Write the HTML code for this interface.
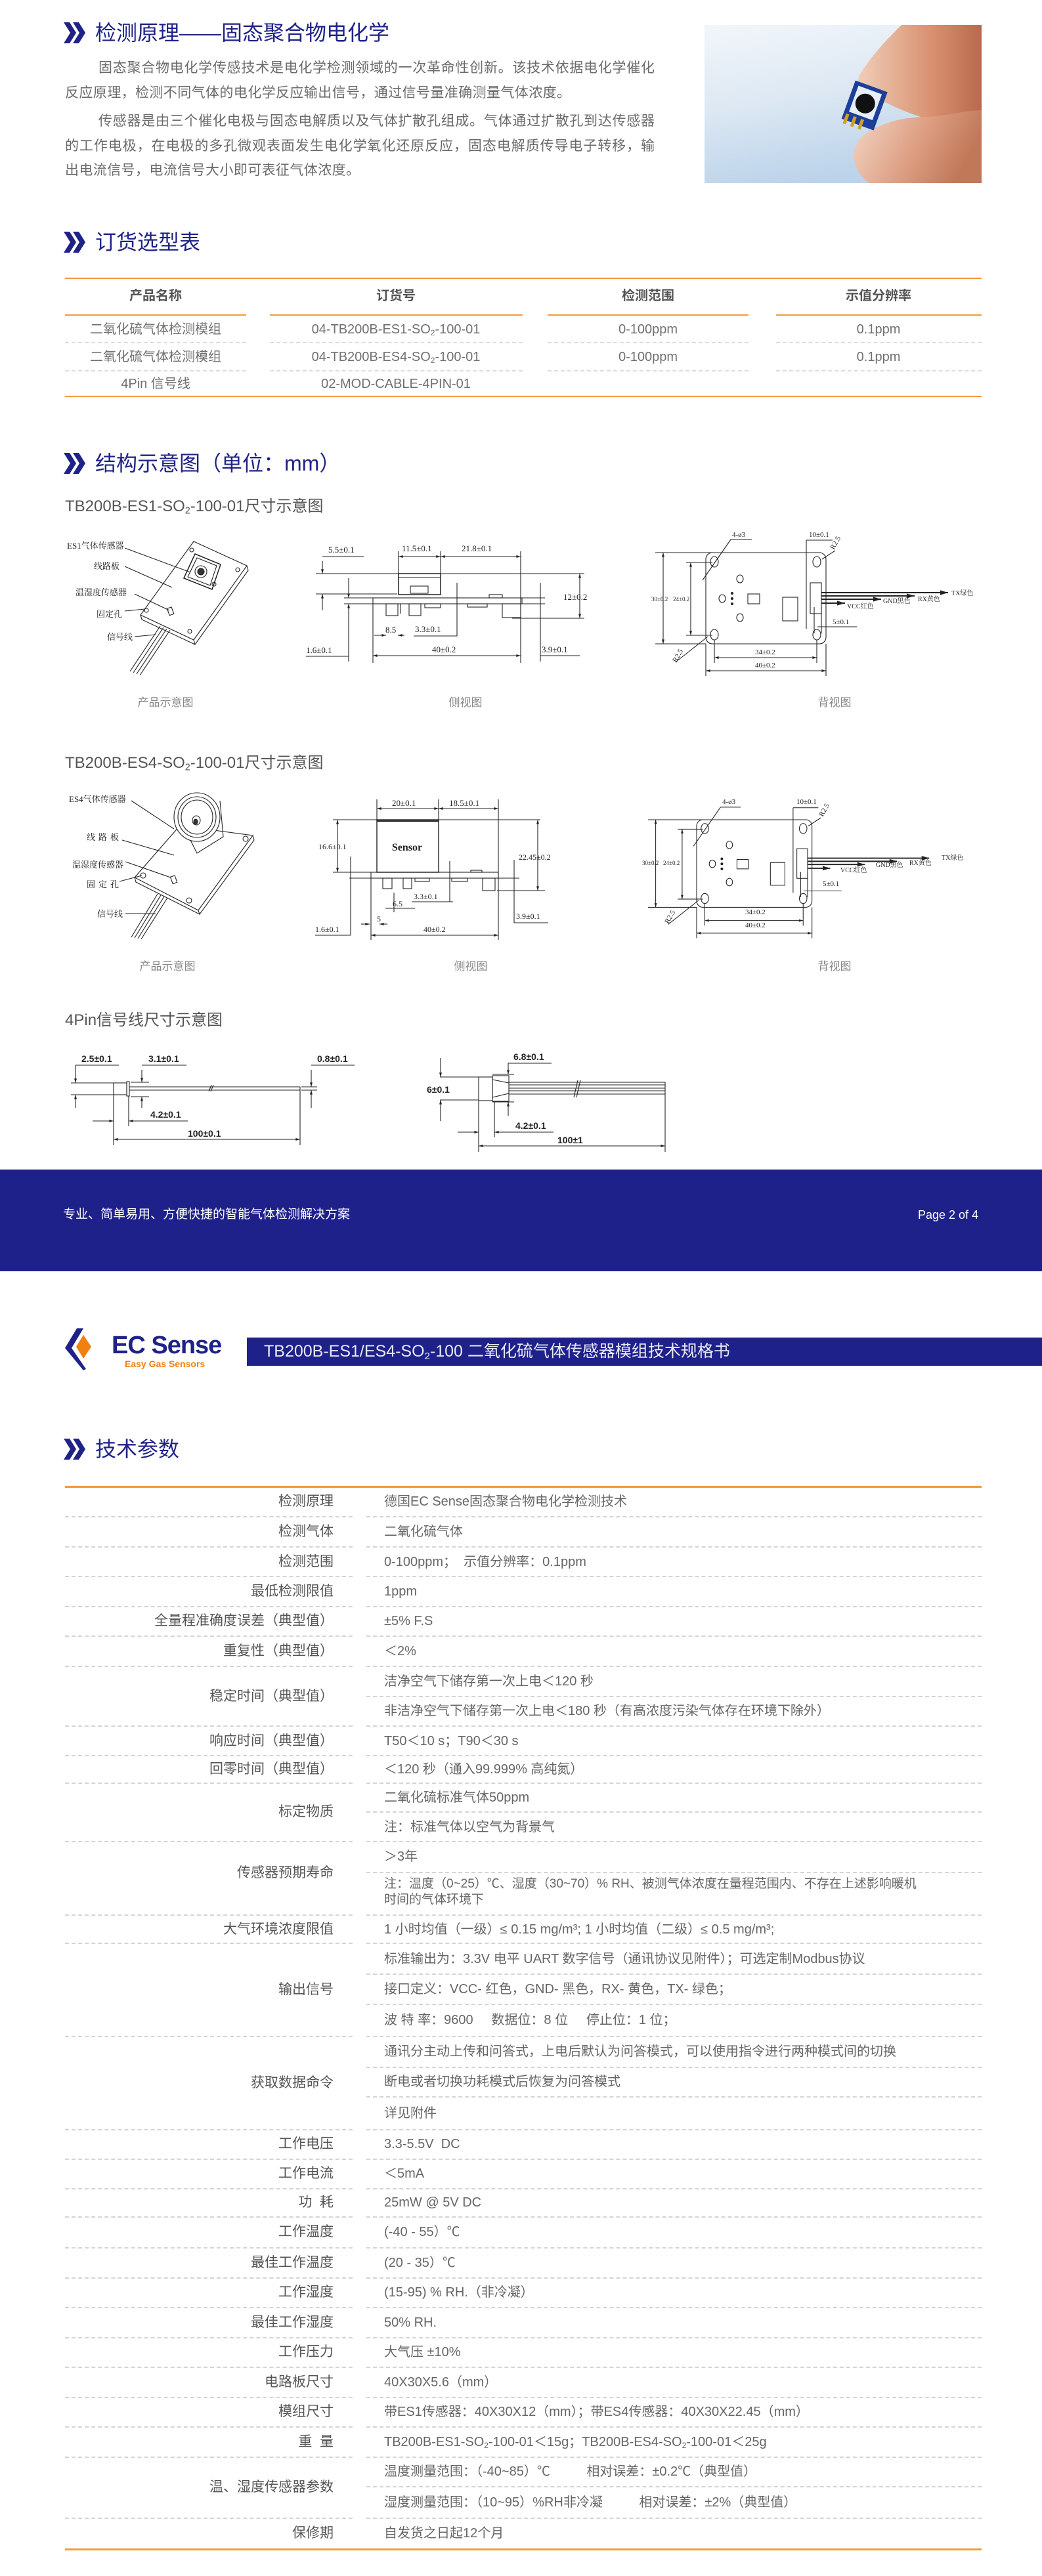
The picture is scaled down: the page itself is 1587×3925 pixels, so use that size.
<!DOCTYPE html>
<html><head><meta charset="utf-8">
<style>
*{margin:0;padding:0;box-sizing:border-box}
body{width:1587px;height:3925px;position:relative;overflow:hidden;background:#fff;font-family:"Liberation Sans","Noto Sans CJK SC",sans-serif;color:#666}
.a{position:absolute;white-space:nowrap}
.tt{position:absolute;left:145px;font-size:32px;color:#1f2287;line-height:40px;height:40px}
.ic{position:absolute;left:97px;width:40px;height:32px}
.p{position:absolute;font-size:21px;color:#6a6a6a;line-height:30px;height:30px;white-space:nowrap}
.j{text-align:justify;text-align-last:justify}
.sub{position:absolute;left:99px;font-size:24px;color:#555;line-height:30px}
.cap{position:absolute;font-size:17px;color:#888;line-height:24px;transform:translateX(-50%)}
.oh{position:absolute;font-size:20px;font-weight:bold;color:#555;line-height:30px;transform:translateX(-50%);top:436px}
.oc{position:absolute;font-size:20px;color:#707070;line-height:30px;transform:translateX(-50%)}
.L{position:absolute;left:0;width:508px;text-align:right;font-size:21px;color:#555;line-height:30px;white-space:pre}
.V{position:absolute;left:585px;font-size:20px;color:#666;line-height:30px;white-space:pre}
.dl{position:absolute;left:99px;width:438px;height:0;border-top:2px dashed #d4d4d4}
.dv{position:absolute;left:558px;width:937px;height:0;border-top:2px dashed #d4d4d4}
.ol{position:absolute;height:3px;background:#f39a3a}
sub{font-size:0.6em;vertical-align:-0.25em}
</style></head><body>

<svg class="ic" style="top:34px" viewBox="0 0 40 32"><polygon points="0,0 9,0 19,16 9,32 0,32 10,16" fill="#1f2287"/><polygon points="14,0 23,0 33,16 23,32 14,32 24,16" fill="#1f2287"/></svg>
<div class="tt" style="top:30px">检测原理——固态聚合物电化学</div>
<div class="p j" style="left:150px;top:89px;width:847px">固态聚合物电化学传感技术是电化学检测领域的一次革命性创新。该技术依据电化学催化</div>
<div class="p" style="left:99px;top:127px;letter-spacing:0.4px">反应原理，检测不同气体的电化学反应输出信号，通过信号量准确测量气体浓度。</div>
<div class="p j" style="left:150px;top:170px;width:847px">传感器是由三个催化电极与固态电解质以及气体扩散孔组成。气体通过扩散孔到达传感器</div>
<div class="p j" style="left:99px;top:208px;width:898px">的工作电极，在电极的多孔微观表面发生电化学氧化还原反应，固态电解质传导电子转移，输</div>
<div class="p" style="left:99px;top:245px;letter-spacing:0.4px">出电流信号，电流信号大小即可表征气体浓度。</div>

<svg class="a" style="left:1073px;top:38px" width="422" height="241" viewBox="0 0 422 241">
<defs>
<linearGradient id="bg" x1="0" y1="0" x2="0.3" y2="1"><stop offset="0" stop-color="#f2f6fa"/><stop offset="0.5" stop-color="#dde8f3"/><stop offset="1" stop-color="#bcd3ea"/></linearGradient>
<linearGradient id="sk" x1="0" y1="0" x2="1" y2="0"><stop offset="0" stop-color="#f0cdb8"/><stop offset="0.6" stop-color="#d89070"/><stop offset="1" stop-color="#b86a4c"/></linearGradient>
<linearGradient id="sk2" x1="0" y1="0" x2="1" y2="0.3"><stop offset="0" stop-color="#f3d8c6"/><stop offset="0.6" stop-color="#dc9c80"/><stop offset="1" stop-color="#c07858"/></linearGradient>
</defs>
<rect width="422" height="241" fill="url(#bg)"/>
<path d="M300,0 L422,0 L422,150 C380,160 320,140 280,120 C240,105 225,90 240,70 C260,40 280,20 300,0Z" fill="url(#sk)"/>
<path d="M422,130 L422,241 L250,241 C225,220 220,190 240,170 C265,150 300,140 340,140 C370,138 400,130 422,130Z" fill="url(#sk2)"/>
<g transform="rotate(20 245 122)"><rect x="218" y="92" width="52" height="62" fill="#1d3f9a"/><rect x="225" y="98" width="38" height="42" fill="#e8eef8"/><circle cx="244" cy="120" r="15" fill="#111"/><rect x="222" y="144" width="5" height="16" fill="#d4a020"/><rect x="234" y="144" width="5" height="16" fill="#d4a020"/><rect x="246" y="144" width="5" height="16" fill="#d4a020"/></g>
</svg>

<svg class="ic" style="top:353px" viewBox="0 0 40 32"><polygon points="0,0 9,0 19,16 9,32 0,32 10,16" fill="#1f2287"/><polygon points="14,0 23,0 33,16 23,32 14,32 24,16" fill="#1f2287"/></svg>
<div class="tt" style="top:349px">订货选型表</div>
<div class="ol" style="left:99px;top:423px;width:1396px;height:2px"></div>
<div class="oh" style="left:237px">产品名称</div>
<div class="oh" style="left:603px">订货号</div>
<div class="oh" style="left:987px">检测范围</div>
<div class="oh" style="left:1338px">示值分辨率</div>
<div class="ol" style="left:99px;top:479px;width:276px;height:2px"></div>
<div class="ol" style="left:411px;top:479px;width:385px;height:2px"></div>
<div class="ol" style="left:834px;top:479px;width:306px;height:2px"></div>
<div class="ol" style="left:1182px;top:479px;width:313px;height:2px"></div>
<div class="oc" style="left:237px;top:487px">二氧化硫气体检测模组</div>
<div class="oc" style="left:603px;top:487px">04-TB200B-ES1-SO<sub>2</sub>-100-01</div>
<div class="oc" style="left:987px;top:487px">0-100ppm</div>
<div class="oc" style="left:1338px;top:487px">0.1ppm</div>
<div class="oc" style="left:237px;top:529px">二氧化硫气体检测模组</div>
<div class="oc" style="left:603px;top:529px">04-TB200B-ES4-SO<sub>2</sub>-100-01</div>
<div class="oc" style="left:987px;top:529px">0-100ppm</div>
<div class="oc" style="left:1338px;top:529px">0.1ppm</div>
<div class="oc" style="left:237px;top:570px">4Pin 信号线</div>
<div class="oc" style="left:603px;top:570px">02-MOD-CABLE-4PIN-01</div>
<div class="a" style="left:99px;top:521px;width:276px;border-top:2px dashed #ddd"></div>
<div class="a" style="left:411px;top:521px;width:385px;border-top:2px dashed #ddd"></div>
<div class="a" style="left:834px;top:521px;width:306px;border-top:2px dashed #ddd"></div>
<div class="a" style="left:1182px;top:521px;width:313px;border-top:2px dashed #ddd"></div>
<div class="a" style="left:99px;top:564px;width:276px;border-top:2px dashed #ddd"></div>
<div class="a" style="left:411px;top:564px;width:385px;border-top:2px dashed #ddd"></div>
<div class="a" style="left:834px;top:564px;width:306px;border-top:2px dashed #ddd"></div>
<div class="a" style="left:1182px;top:564px;width:313px;border-top:2px dashed #ddd"></div>
<div class="ol" style="left:99px;top:603px;width:1396px;height:2px"></div>

<svg class="ic" style="top:690px" viewBox="0 0 40 32"><polygon points="0,0 9,0 19,16 9,32 0,32 10,16" fill="#1f2287"/><polygon points="14,0 23,0 33,16 23,32 14,32 24,16" fill="#1f2287"/></svg>
<div class="tt" style="top:686px">结构示意图（单位：mm）</div>
<div class="sub" style="top:757px">TB200B-ES1-SO<sub>2</sub>-100-01尺寸示意图</div>
<div class="sub" style="top:1148px">TB200B-ES4-SO<sub>2</sub>-100-01尺寸示意图</div>
<div class="sub" style="top:1540px">4Pin信号线尺寸示意图</div>
<div class="cap" style="left:252px;top:1059px">产品示意图</div>
<div class="cap" style="left:709px;top:1059px">侧视图</div>
<div class="cap" style="left:1271px;top:1059px">背视图</div>
<div class="cap" style="left:255px;top:1461px">产品示意图</div>
<div class="cap" style="left:717px;top:1461px">侧视图</div>
<div class="cap" style="left:1271px;top:1461px">背视图</div>

<svg class="a" style="left:0;top:0" width="1587" height="1800" viewBox="0 0 1587 1800">
<defs><marker id="ar" viewBox="0 0 10 10" refX="10" refY="5" markerWidth="8" markerHeight="6" orient="auto-start-reverse"><path d="M0,2 L10,5 L0,8z" fill="#222"/></marker></defs>
<g fill="none" stroke="#222" stroke-width="1.1">
<polygon points="295,825 376,862 295,975 214,937"/>
<polyline points="376,862 378,869 297,982 295,975"/><polyline points="214,937 216,944 297,982"/>
<polygon points="297,844 336,860 323,898 280,881" stroke-width="1.5"/>
<polygon points="300,850 330,862 320,892 286,879"/>
<circle cx="306" cy="871" r="9"/><circle cx="306" cy="871" r="5" fill="#333"/>
<circle cx="326" cy="890" r="3"/>
<circle cx="292" cy="838" r="3"/><circle cx="362" cy="868" r="3"/><circle cx="223" cy="930" r="3"/><circle cx="289" cy="962" r="3"/>
<rect x="256" y="926" width="7" height="11" transform="rotate(-20 259 931)"/>
<line x1="244" y1="954" x2="198" y2="1023"/><line x1="249" y1="956" x2="203" y2="1025"/><line x1="254" y1="958" x2="208" y2="1027"/><line x1="259" y1="960" x2="213" y2="1029"/>
<line x1="190" y1="835" x2="290" y2="872"/><line x1="190" y1="863" x2="262" y2="895"/><line x1="205" y1="905" x2="258" y2="930"/><line x1="190" y1="931" x2="221" y2="928"/><line x1="205" y1="970" x2="237" y2="967"/>
<line x1="491" y1="848" x2="554" y2="848"/><line x1="491" y1="855" x2="491" y2="874" marker-end="url(#ar)"/><line x1="491" y1="930" x2="491" y2="905" marker-end="url(#ar)"/>
<line x1="607" y1="848" x2="671" y2="848" marker-start="url(#ar)" marker-end="url(#ar)"/><line x1="671" y1="848" x2="793" y2="848" marker-start="url(#ar)" marker-end="url(#ar)"/>
<line x1="607" y1="840" x2="607" y2="874"/><line x1="671" y1="840" x2="671" y2="874"/><line x1="793" y1="840" x2="793" y2="1010"/>
<line x1="481" y1="874" x2="890" y2="874"/><line x1="481" y1="905" x2="605" y2="905"/>
<rect x="607" y="874" width="64" height="32" stroke-width="1.5"/><rect x="625" y="893" width="27" height="11"/>
<line x1="607" y1="880" x2="671" y2="880"/>
<rect x="568" y="911" width="227" height="9"/><line x1="524" y1="911" x2="830" y2="911"/><line x1="524" y1="920" x2="830" y2="920"/>
<rect x="588" y="920" width="18" height="18"/><rect x="623" y="920" width="18" height="18"/><rect x="647" y="920" width="24" height="6"/><rect x="712" y="920" width="30" height="5"/><rect x="765" y="920" width="28" height="21"/><rect x="745" y="906" width="20" height="5"/>
<line x1="610" y1="920" x2="610" y2="935"/>
<line x1="883" y1="874" x2="883" y2="942" marker-start="url(#ar)" marker-end="url(#ar)"/><line x1="780" y1="942" x2="890" y2="942"/>
<line x1="531" y1="881" x2="531" y2="911" marker-end="url(#ar)"/><line x1="531" y1="1008" x2="531" y2="920" marker-end="url(#ar)"/><line x1="466" y1="1000" x2="531" y2="1000"/>
<line x1="568" y1="920" x2="568" y2="1010"/>
<line x1="570" y1="968" x2="588" y2="968" marker-end="url(#ar)"/><line x1="616" y1="968" x2="606" y2="968" marker-end="url(#ar)"/>
<line x1="630" y1="969" x2="696" y2="969"/><line x1="696" y1="888" x2="696" y2="969"/>
<line x1="568" y1="999" x2="793" y2="999" marker-start="url(#ar)" marker-end="url(#ar)"/>
<line x1="823" y1="999" x2="883" y2="999"/><line x1="823" y1="888" x2="823" y2="1008"/>
<g transform="translate(1075,842)">
<rect x="0" y="0" width="183" height="139" rx="10"/>
<ellipse cx="13" cy="14" rx="6" ry="8"/><ellipse cx="169" cy="14" rx="6" ry="8"/><ellipse cx="13" cy="125" rx="6" ry="8"/><ellipse cx="169" cy="125" rx="6" ry="8"/>
<ellipse cx="52" cy="40" rx="5" ry="6"/><ellipse cx="52" cy="99" rx="5" ry="6"/><ellipse cx="25" cy="70" rx="5" ry="6"/>
<circle cx="40" cy="62" r="1.5" fill="#222"/><circle cx="40" cy="70" r="1.5" fill="#222"/><circle cx="40" cy="78" r="1.5" fill="#222"/>
<rect x="64" y="63" width="18" height="15"/><rect x="117" y="68" width="23" height="36"/><rect x="159" y="46" width="17" height="47"/>
<line x1="176" y1="61" x2="369" y2="61" marker-end="url(#ar)" stroke-width="2"/><line x1="176" y1="66" x2="318" y2="66" marker-end="url(#ar)" stroke-width="2"/><line x1="176" y1="71" x2="267" y2="71" marker-end="url(#ar)" stroke-width="2"/><line x1="176" y1="77" x2="212" y2="77" marker-end="url(#ar)" stroke-width="2"/>
<line x1="38" y1="-20" x2="70" y2="-20"/><line x1="38" y1="-20" x2="-5" y2="42"/>
<line x1="153" y1="-19" x2="193" y2="-19"/><line x1="153" y1="-19" x2="153" y2="116"/>
<line x1="197" y1="-3" x2="177" y2="10"/>
<line x1="-77" y1="0" x2="175" y2="0"/><line x1="-77" y1="139" x2="0" y2="139"/>
<line x1="-65" y1="0" x2="-65" y2="139" marker-start="url(#ar)" marker-end="url(#ar)"/>
<line x1="-30" y1="15" x2="10" y2="15"/><line x1="-30" y1="126" x2="10" y2="126"/><line x1="-23" y1="15" x2="-23" y2="126" marker-start="url(#ar)" marker-end="url(#ar)"/>
<line x1="170" y1="113" x2="230" y2="113"/><line x1="165" y1="83" x2="165" y2="123"/><line x1="176" y1="83" x2="176" y2="123"/>
<line x1="3" y1="128" x2="-45" y2="166"/>
<line x1="13" y1="133" x2="13" y2="168"/><line x1="169" y1="133" x2="169" y2="168"/><line x1="13" y1="160" x2="169" y2="160" marker-start="url(#ar)" marker-end="url(#ar)"/>
<line x1="0" y1="139" x2="0" y2="188"/><line x1="183" y1="139" x2="183" y2="188"/><line x1="0" y1="180" x2="183" y2="180" marker-start="url(#ar)" marker-end="url(#ar)"/>
</g>
<polygon points="274,1258 385,1273 302,1387 205,1337"/>
<polyline points="385,1273 387,1280 304,1393 302,1387"/><polyline points="205,1337 207,1344 304,1393"/>
<path d="M268,1236 L300,1300 L340,1275 L335,1220"/>
<ellipse cx="300" cy="1245" rx="35" ry="37" fill="#fff"/><ellipse cx="300" cy="1245" rx="29" ry="31"/><ellipse cx="300" cy="1245" rx="24" ry="26"/>
<ellipse cx="299" cy="1250" rx="6" ry="7"/><ellipse cx="298" cy="1252" rx="3" ry="4" fill="#333"/>
<circle cx="374" cy="1278" r="4"/><circle cx="218" cy="1334" r="4"/><circle cx="288" cy="1372" r="4"/>
<rect x="261" y="1335" width="7" height="11" transform="rotate(-20 264 1340)"/>
<line x1="240" y1="1362" x2="200" y2="1428"/><line x1="245" y1="1364" x2="205" y2="1429"/><line x1="250" y1="1366" x2="210" y2="1430"/><line x1="255" y1="1368" x2="215" y2="1431"/>
<line x1="200" y1="1220" x2="265" y2="1263"/><line x1="186" y1="1280" x2="265" y2="1303"/><line x1="191" y1="1313" x2="260" y2="1337"/><line x1="182" y1="1343" x2="216" y2="1334"/><line x1="191" y1="1392" x2="237" y2="1392"/>
<line x1="574" y1="1232" x2="668" y2="1232" marker-start="url(#ar)" marker-end="url(#ar)"/><line x1="668" y1="1232" x2="759" y2="1232" marker-start="url(#ar)" marker-end="url(#ar)"/>
<line x1="574" y1="1218" x2="574" y2="1249"/><line x1="668" y1="1218" x2="668" y2="1249"/><line x1="759" y1="1218" x2="759" y2="1340"/>
<line x1="507" y1="1249" x2="823" y2="1249"/>
<rect x="574" y="1249" width="94" height="80" stroke-width="1.4"/><line x1="574" y1="1251" x2="668" y2="1251" stroke-width="2"/>
<line x1="514" y1="1249" x2="514" y2="1329" marker-start="url(#ar)" marker-end="url(#ar)"/>
<line x1="507" y1="1329" x2="565" y2="1329"/>
<rect x="565" y="1329" width="194" height="9"/><line x1="532" y1="1338" x2="791" y2="1338"/>
<rect x="583" y="1338" width="14" height="16"/><rect x="614" y="1338" width="13" height="16"/><rect x="632" y="1338" width="22" height="5"/><rect x="688" y="1338" width="24" height="5"/><rect x="735" y="1338" width="19" height="19"/><rect x="717" y="1326" width="17" height="3"/>
<line x1="819" y1="1249" x2="819" y2="1357" marker-start="url(#ar)" marker-end="url(#ar)"/><line x1="757" y1="1357" x2="830" y2="1357"/>
<line x1="627" y1="1374" x2="690" y2="1374"/><line x1="685" y1="1312" x2="685" y2="1374"/>
<line x1="587" y1="1384" x2="632" y2="1384"/><line x1="600" y1="1360" x2="600" y2="1390"/>
<line x1="550" y1="1408" x2="563" y2="1408" marker-end="url(#ar)"/><line x1="590" y1="1408" x2="578" y2="1408" marker-end="url(#ar)"/>
<line x1="480" y1="1425" x2="534" y2="1425"/><line x1="534" y1="1305" x2="534" y2="1425"/>
<line x1="565" y1="1338" x2="565" y2="1432"/>
<line x1="565" y1="1425" x2="759" y2="1425" marker-start="url(#ar)" marker-end="url(#ar)"/><line x1="759" y1="1340" x2="759" y2="1432"/>
<line x1="783" y1="1406" x2="835" y2="1406"/><line x1="783" y1="1310" x2="783" y2="1406"/>
<g transform="translate(1061,1249) scale(0.96)">
<rect x="0" y="0" width="183" height="139" rx="10"/>
<ellipse cx="13" cy="14" rx="6" ry="8"/><ellipse cx="169" cy="14" rx="6" ry="8"/><ellipse cx="13" cy="125" rx="6" ry="8"/><ellipse cx="169" cy="125" rx="6" ry="8"/>
<ellipse cx="52" cy="40" rx="5" ry="6"/><ellipse cx="52" cy="99" rx="5" ry="6"/><ellipse cx="25" cy="70" rx="5" ry="6"/>
<circle cx="40" cy="62" r="1.5" fill="#222"/><circle cx="40" cy="70" r="1.5" fill="#222"/><circle cx="40" cy="78" r="1.5" fill="#222"/>
<rect x="64" y="63" width="18" height="15"/><rect x="117" y="68" width="23" height="36"/><rect x="159" y="46" width="17" height="47"/>
<line x1="176" y1="61" x2="369" y2="61" marker-end="url(#ar)" stroke-width="2"/><line x1="176" y1="66" x2="318" y2="66" marker-end="url(#ar)" stroke-width="2"/><line x1="176" y1="71" x2="267" y2="71" marker-end="url(#ar)" stroke-width="2"/><line x1="176" y1="77" x2="212" y2="77" marker-end="url(#ar)" stroke-width="2"/>
<line x1="38" y1="-20" x2="70" y2="-20"/><line x1="38" y1="-20" x2="-5" y2="42"/>
<line x1="153" y1="-19" x2="193" y2="-19"/><line x1="153" y1="-19" x2="153" y2="116"/>
<line x1="197" y1="-3" x2="177" y2="10"/>
<line x1="-77" y1="0" x2="175" y2="0"/><line x1="-77" y1="139" x2="0" y2="139"/>
<line x1="-65" y1="0" x2="-65" y2="139" marker-start="url(#ar)" marker-end="url(#ar)"/>
<line x1="-30" y1="15" x2="10" y2="15"/><line x1="-30" y1="126" x2="10" y2="126"/><line x1="-23" y1="15" x2="-23" y2="126" marker-start="url(#ar)" marker-end="url(#ar)"/>
<line x1="170" y1="113" x2="230" y2="113"/><line x1="165" y1="83" x2="165" y2="123"/><line x1="176" y1="83" x2="176" y2="123"/>
<line x1="3" y1="128" x2="-45" y2="166"/>
<line x1="13" y1="133" x2="13" y2="168"/><line x1="169" y1="133" x2="169" y2="168"/><line x1="13" y1="160" x2="169" y2="160" marker-start="url(#ar)" marker-end="url(#ar)"/>
<line x1="0" y1="139" x2="0" y2="188"/><line x1="183" y1="139" x2="183" y2="188"/><line x1="0" y1="180" x2="183" y2="180" marker-start="url(#ar)" marker-end="url(#ar)"/>
</g>
<rect x="173" y="1650" width="20" height="18"/><rect x="193" y="1648" width="4" height="22"/>
<line x1="197" y1="1656" x2="457" y2="1656"/><line x1="197" y1="1661" x2="457" y2="1661"/><line x1="457" y1="1656" x2="457" y2="1661"/>
<line x1="318" y1="1663" x2="322" y2="1653"/><line x1="321" y1="1663" x2="325" y2="1653"/>
<line x1="108" y1="1650" x2="173" y2="1650"/><line x1="108" y1="1668" x2="173" y2="1668"/>
<line x1="115" y1="1623" x2="115" y2="1650" marker-end="url(#ar)"/><line x1="115" y1="1688" x2="115" y2="1668" marker-end="url(#ar)"/>
<line x1="115" y1="1623" x2="181" y2="1623"/>
<line x1="199" y1="1649" x2="227" y2="1649"/><line x1="199" y1="1671" x2="227" y2="1671"/>
<line x1="216" y1="1630" x2="216" y2="1649" marker-end="url(#ar)"/><line x1="216" y1="1688" x2="216" y2="1671" marker-end="url(#ar)"/><line x1="216" y1="1623" x2="284" y2="1623"/>
<line x1="459" y1="1656" x2="483" y2="1656"/><line x1="459" y1="1661" x2="483" y2="1661"/>
<line x1="474" y1="1630" x2="474" y2="1656" marker-end="url(#ar)"/><line x1="474" y1="1688" x2="474" y2="1661" marker-end="url(#ar)"/><line x1="474" y1="1623" x2="540" y2="1623"/>
<line x1="141" y1="1708" x2="173" y2="1708" marker-end="url(#ar)"/><line x1="286" y1="1708" x2="196" y2="1708" marker-end="url(#ar)"/>
<line x1="173" y1="1668" x2="173" y2="1745"/><line x1="196" y1="1670" x2="196" y2="1716"/>
<line x1="173" y1="1736" x2="457" y2="1736" marker-start="url(#ar)" marker-end="url(#ar)"/><line x1="457" y1="1661" x2="457" y2="1745"/>
<rect x="729" y="1641" width="21" height="36"/><rect x="750" y="1639" width="25" height="39"/>
<line x1="750" y1="1645" x2="775" y2="1650"/><line x1="750" y1="1672" x2="775" y2="1666"/>
<line x1="775" y1="1649" x2="1013" y2="1649"/><line x1="775" y1="1653" x2="1013" y2="1653"/><line x1="775" y1="1658" x2="1013" y2="1658"/><line x1="775" y1="1662" x2="1013" y2="1662"/><line x1="775" y1="1667" x2="1013" y2="1667"/><line x1="1013" y1="1649" x2="1013" y2="1667"/>
<line x1="874" y1="1672" x2="880" y2="1646"/><line x1="878" y1="1672" x2="884" y2="1646"/>
<line x1="670" y1="1641" x2="729" y2="1641"/><line x1="670" y1="1676" x2="729" y2="1676"/>
<line x1="671" y1="1612" x2="671" y2="1641" marker-end="url(#ar)"/><line x1="671" y1="1708" x2="671" y2="1676" marker-end="url(#ar)"/>
<line x1="750" y1="1637" x2="783" y2="1637"/><line x1="750" y1="1679" x2="783" y2="1679"/>
<line x1="774" y1="1620" x2="774" y2="1637" marker-end="url(#ar)"/><line x1="774" y1="1700" x2="774" y2="1679" marker-end="url(#ar)"/><line x1="774" y1="1620" x2="840" y2="1620"/>
<line x1="697" y1="1725" x2="729" y2="1725" marker-end="url(#ar)"/><line x1="843" y1="1725" x2="753" y2="1725" marker-end="url(#ar)"/>
<line x1="729" y1="1677" x2="729" y2="1755"/><line x1="753" y1="1678" x2="753" y2="1733"/>
<line x1="729" y1="1746" x2="1013" y2="1746" marker-start="url(#ar)" marker-end="url(#ar)"/><line x1="1013" y1="1667" x2="1013" y2="1755"/>
</g>
<g font-family="Liberation Serif,Noto Serif CJK SC,serif" font-size="13" fill="#222">
<text x="102" y="836">ES1气体传感器</text><text x="143" y="867">线路板</text><text x="115" y="907">温湿度传感器</text><text x="147" y="940">固定孔</text><text x="163" y="975">信号线</text>
<text x="500" y="842">5.5±0.1</text><text x="612" y="840">11.5±0.1</text><text x="703" y="840">21.8±0.1</text>
<text x="858" y="914">12±0.2</text><text x="466" y="995">1.6±0.1</text><text x="587" y="964">8.5</text><text x="632" y="963">3.3±0.1</text><text x="658" y="994">40±0.2</text><text x="825" y="994">3.9±0.1</text>
<text x="105" y="1222">ES4气体传感器</text><text x="132" y="1280" letter-spacing="5">线路板</text><text x="110" y="1322">温湿度传感器</text><text x="132" y="1352" letter-spacing="5">固定孔</text><text x="148" y="1397">信号线</text>
<text x="597" y="1228">20±0.1</text><text x="684" y="1228">18.5±0.1</text>
<text x="620" y="1296" font-weight="bold" font-size="16" text-anchor="middle">Sensor</text>
<text x="485" y="1294" font-size="12">16.6±0.1</text><text x="790" y="1310" font-size="12">22.45±0.2</text>
<text x="630" y="1370" font-size="12">3.3±0.1</text><text x="598" y="1381" font-size="12">6.5</text><text x="574" y="1404" font-size="12">5</text><text x="480" y="1420" font-size="12">1.6±0.1</text><text x="645" y="1420" font-size="12">40±0.2</text><text x="786" y="1400" font-size="12">3.9±0.1</text>
</g>
<g font-family="Liberation Serif,Noto Serif CJK SC,serif" font-size="11" fill="#222">
<text x="1115" y="818">4-ø3</text><text x="1232" y="818">10±0.1</text><text x="1270" y="838" transform="rotate(-60 1270 838)">R2.5</text>
<text x="992" y="916" font-size="9">30±0.2</text><text x="1025" y="916" font-size="9">24±0.2</text>
<text x="1449" y="907" font-size="10">TX绿色</text><text x="1398" y="916" font-size="10">RX黄色</text><text x="1345" y="919" font-size="10">GND黑色</text><text x="1290" y="927" font-size="10">VCC红色</text>
<text x="1268" y="951">5±0.1</text><text x="1030" y="1010" transform="rotate(-60 1030 1010)">R2.5</text>
<text x="1150" y="997">34±0.2</text><text x="1150" y="1017">40±0.2</text>
<text x="1100" y="1225">4-ø3</text><text x="1213" y="1225">10±0.1</text><text x="1253" y="1245" transform="rotate(-60 1253 1245)">R2.5</text>
<text x="978" y="1318" font-size="9">30±0.2</text><text x="1010" y="1318" font-size="9">24±0.2</text>
<text x="1434" y="1310" font-size="10">TX绿色</text><text x="1385" y="1318" font-size="10">RX黄色</text><text x="1334" y="1321" font-size="10">GND黑色</text><text x="1280" y="1329" font-size="10">VCC红色</text>
<text x="1253" y="1350">5±0.1</text><text x="1018" y="1408" transform="rotate(-60 1018 1408)">R2.5</text>
<text x="1135" y="1393">34±0.2</text><text x="1135" y="1413">40±0.2</text>
</g>
<g font-family="Liberation Sans Narrow,Liberation Sans,sans-serif" font-size="14" font-weight="bold" fill="#222">
<text x="124" y="1618">2.5±0.1</text><text x="226" y="1618">3.1±0.1</text><text x="483" y="1618">0.8±0.1</text><text x="229" y="1703">4.2±0.1</text><text x="286" y="1732">100±0.1</text>
<text x="782" y="1615">6.8±0.1</text><text x="650" y="1665">6±0.1</text><text x="785" y="1720">4.2±0.1</text><text x="849" y="1742">100±1</text>
</g>
</svg>

<div class="a" style="left:0;top:1782px;width:1587px;height:155px;background:#1e2189"></div>
<div class="a" style="left:96px;top:1838px;font-size:19px;color:#fff;line-height:26px">专业、简单易用、方便快捷的智能气体检测解决方案</div>
<div class="a" style="left:1398px;top:1838px;font-size:18px;color:#fff;line-height:26px">Page 2 of 4</div>

<svg class="a" style="left:99px;top:2024px" width="70" height="64" viewBox="0 0 70 64"><polygon points="18,0 28,0 10,30 32,62 28,64 0,30" fill="#1f2287"/><polygon points="28,10 40,28 28,46 17,28" fill="#f08010"/></svg>
<div class="a" style="left:170px;top:2030px;font-size:38px;font-weight:bold;color:#1f2287;line-height:40px;letter-spacing:-1px">EC Sense</div>
<div class="a" style="left:190px;top:2069px;font-size:14px;font-weight:bold;color:#f08010;line-height:18px">Easy Gas Sensors</div>
<div class="a" style="left:376px;top:2038px;width:1211px;height:43px;background:#1e2189"></div>
<div class="a" style="left:402px;top:2043px;font-size:25px;color:#e8e8f4;line-height:33px">TB200B-ES1/ES4-SO<sub>2</sub>-100 二氧化硫气体传感器模组技术规格书</div>

<svg class="ic" style="top:2192px" viewBox="0 0 40 32"><polygon points="0,0 9,0 19,16 9,32 0,32 10,16" fill="#1f2287"/><polygon points="14,0 23,0 33,16 23,32 14,32 24,16" fill="#1f2287"/></svg>
<div class="tt" style="top:2188px">技术参数</div>
<div class="ol" style="left:99px;top:2264px;width:1396px;height:3px"></div>

<div class="L" style="top:2273px">检测原理</div><div class="V" style="top:2273px">德国EC Sense固态聚合物电化学检测技术</div>
<div class="dl" style="top:2310px"></div><div class="dv" style="top:2310px"></div>
<div class="L" style="top:2319px">检测气体</div><div class="V" style="top:2319px">二氧化硫气体</div>
<div class="dl" style="top:2356px"></div><div class="dv" style="top:2356px"></div>
<div class="L" style="top:2365px">检测范围</div><div class="V" style="top:2365px">0-100ppm；  示值分辨率：0.1ppm</div>
<div class="dl" style="top:2401px"></div><div class="dv" style="top:2401px"></div>
<div class="L" style="top:2410px">最低检测限值</div><div class="V" style="top:2410px">1ppm</div>
<div class="dl" style="top:2447px"></div><div class="dv" style="top:2447px"></div>
<div class="L" style="top:2455px">全量程准确度误差（典型值）</div><div class="V" style="top:2455px">±5% F.S</div>
<div class="dl" style="top:2492px"></div><div class="dv" style="top:2492px"></div>
<div class="L" style="top:2501px">重复性（典型值）</div><div class="V" style="top:2501px">＜2%</div>
<div class="dl" style="top:2538px"></div><div class="dv" style="top:2538px"></div>
<div class="L" style="top:2570px">稳定时间（典型值）</div>
<div class="V" style="top:2547px">洁净空气下储存第一次上电＜120 秒</div>
<div class="dv" style="top:2584px"></div>
<div class="V" style="top:2592px">非洁净空气下储存第一次上电＜180 秒（有高浓度污染气体存在环境下除外）</div>
<div class="dl" style="top:2629px"></div><div class="dv" style="top:2629px"></div>
<div class="L" style="top:2638px">响应时间（典型值）</div><div class="V" style="top:2638px">T50＜10 s；T90＜30 s</div>
<div class="dl" style="top:2674px"></div><div class="dv" style="top:2674px"></div>
<div class="L" style="top:2681px">回零时间（典型值）</div><div class="V" style="top:2681px">＜120 秒（通入99.999% 高纯氮）</div>
<div class="dl" style="top:2716px"></div><div class="dv" style="top:2716px"></div>
<div class="L" style="top:2746px">标定物质</div>
<div class="V" style="top:2724px">二氧化硫标准气体50ppm</div>
<div class="dv" style="top:2760px"></div>
<div class="V" style="top:2769px">注：标准气体以空气为背景气</div>
<div class="dl" style="top:2805px"></div><div class="dv" style="top:2805px"></div>
<div class="L" style="top:2839px">传感器预期寿命</div>
<div class="V" style="top:2814px">＞3年</div>
<div class="dv" style="top:2852px"></div>
<div class="V" style="top:2859px;line-height:24px;font-size:19px">注：温度（0~25）℃、湿度（30~70）% RH、被测气体浓度在量程范围内、不存在上述影响暖机
时间的气体环境下</div>
<div class="dl" style="top:2917px"></div><div class="dv" style="top:2917px"></div>
<div class="L" style="top:2925px">大气环境浓度限值</div><div class="V" style="top:2925px">1 小时均值（一级）≤ 0.15 mg/m³; 1 小时均值（二级）≤ 0.5 mg/m³;</div>
<div class="dl" style="top:2960px"></div><div class="dv" style="top:2960px"></div>
<div class="L" style="top:3017px">输出信号</div>
<div class="V" style="top:2970px">标准输出为：3.3V 电平 UART 数字信号（通讯协议见附件）；可选定制Modbus协议</div>
<div class="dv" style="top:3007px"></div>
<div class="V" style="top:3016px">接口定义：VCC- 红色，GND- 黑色，RX- 黄色，TX- 绿色；</div>
<div class="dv" style="top:3053px"></div>
<div class="V" style="top:3063px">波 特 率：9600     数据位：8 位     停止位：1 位；</div>
<div class="dl" style="top:3102px"></div><div class="dv" style="top:3102px"></div>
<div class="L" style="top:3159px">获取数据命令</div>
<div class="V" style="top:3111px">通讯分主动上传和问答式，上电后默认为问答模式，可以使用指令进行两种模式间的切换</div>
<div class="dv" style="top:3149px"></div>
<div class="V" style="top:3157px">断电或者切换功耗模式后恢复为问答模式</div>
<div class="dv" style="top:3194px"></div>
<div class="V" style="top:3205px">详见附件</div>
<div class="dl" style="top:3244px"></div><div class="dv" style="top:3244px"></div>
<div class="L" style="top:3252px">工作电压</div><div class="V" style="top:3252px">3.3-5.5V  DC</div>
<div class="dl" style="top:3289px"></div><div class="dv" style="top:3289px"></div>
<div class="L" style="top:3297px">工作电流</div><div class="V" style="top:3297px">＜5mA</div>
<div class="dl" style="top:3334px"></div><div class="dv" style="top:3334px"></div>
<div class="L" style="top:3341px">功  耗</div><div class="V" style="top:3341px">25mW @ 5V DC</div>
<div class="dl" style="top:3377px"></div><div class="dv" style="top:3377px"></div>
<div class="L" style="top:3386px">工作温度</div><div class="V" style="top:3386px">(-40 - 55）℃</div>
<div class="dl" style="top:3424px"></div><div class="dv" style="top:3424px"></div>
<div class="L" style="top:3433px">最佳工作温度</div><div class="V" style="top:3433px">(20 - 35）℃</div>
<div class="dl" style="top:3470px"></div><div class="dv" style="top:3470px"></div>
<div class="L" style="top:3478px">工作湿度</div><div class="V" style="top:3478px">(15-95) % RH.（非冷凝）</div>
<div class="dl" style="top:3515px"></div><div class="dv" style="top:3515px"></div>
<div class="L" style="top:3524px">最佳工作湿度</div><div class="V" style="top:3524px">50% RH.</div>
<div class="dl" style="top:3561px"></div><div class="dv" style="top:3561px"></div>
<div class="L" style="top:3569px">工作压力</div><div class="V" style="top:3569px">大气压 ±10%</div>
<div class="dl" style="top:3606px"></div><div class="dv" style="top:3606px"></div>
<div class="L" style="top:3615px">电路板尺寸</div><div class="V" style="top:3615px">40X30X5.6（mm）</div>
<div class="dl" style="top:3652px"></div><div class="dv" style="top:3652px"></div>
<div class="L" style="top:3660px">模组尺寸</div><div class="V" style="top:3660px">带ES1传感器：40X30X12（mm）；带ES4传感器：40X30X22.45（mm）</div>
<div class="dl" style="top:3697px"></div><div class="dv" style="top:3697px"></div>
<div class="L" style="top:3706px">重  量</div><div class="V" style="top:3706px">TB200B-ES1-SO<sub>2</sub>-100-01＜15g；TB200B-ES4-SO<sub>2</sub>-100-01＜25g</div>
<div class="dl" style="top:3743px"></div><div class="dv" style="top:3743px"></div>
<div class="L" style="top:3775px">温、湿度传感器参数</div>
<div class="V" style="top:3751px">温度测量范围：（-40~85）℃          相对误差：±0.2℃（典型值）</div>
<div class="dv" style="top:3788px"></div>
<div class="V" style="top:3798px">湿度测量范围：（10~95）%RH非冷凝          相对误差：±2%（典型值）</div>
<div class="dl" style="top:3836px"></div><div class="dv" style="top:3836px"></div>
<div class="L" style="top:3845px">保修期</div><div class="V" style="top:3845px">自发货之日起12个月</div>
<div class="ol" style="left:99px;top:3883px;width:1396px;height:3px"></div>
</body></html>
